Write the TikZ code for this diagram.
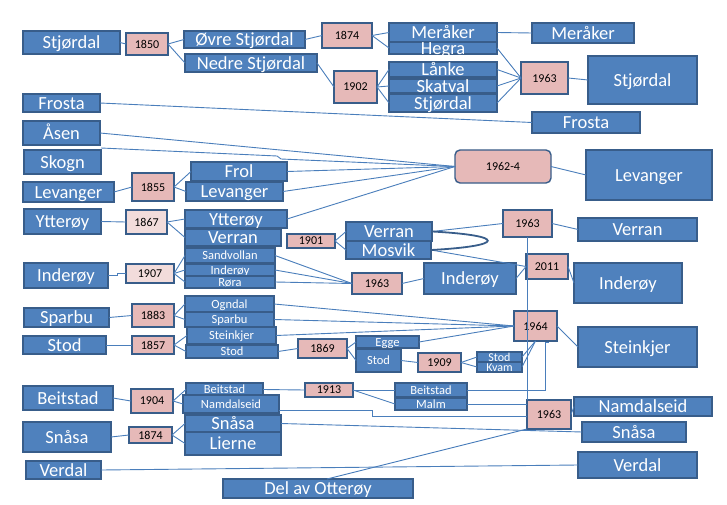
\documentclass[tikz,border=0pt]{standalone}
\usepackage{fontspec}
\setmainfont{Carlito}
\usetikzlibrary{calc}
\definecolor{bfill}{HTML}{4F81BD}
\definecolor{bdraw}{HTML}{385D8A}
\definecolor{pfill}{HTML}{E6B9B8}
\definecolor{lpfill}{HTML}{F2DCDB}
\definecolor{lcol}{HTML}{4A7EBB}
\tikzset{
 bluebox/.style={draw=bdraw, fill=bfill, line width=1.4pt, inner sep=0pt, outer sep=0pt},
 yearbox/.style={draw=bdraw, fill=pfill, line width=1.4pt, inner sep=0pt, outer sep=0pt},
 lyearbox/.style={yearbox, fill=lpfill},
 roundyear/.style={yearbox, rounded corners=5pt},
 conn/.style={draw=lcol, line width=0.9pt},
 loopl/.style={draw=bdraw, line width=1.8pt},
}
\newcommand\bx[7]{%
 \node[bluebox, minimum width={(#4-#2)*1pt}, minimum height={(#5-#3)*1pt}] (#1) at ({(#2+#4)/2},{(#3+#5)/2}) {};
 \node[anchor=base, inner sep=0pt, text=white] at ([yshift={-0.35*#6pt}]#1.center) {\fontsize{#6}{#6}\selectfont #7};}
\newcommand\yr[7]{%
 \node[#6, minimum width={(#4-#2)*1pt}, minimum height={(#5-#3)*1pt}, font=\fontsize{12}{12}\selectfont] (#1) at ({(#2+#4)/2},{(#3+#5)/2}) {#7};}
\begin{document}
\begin{tikzpicture}[x=1pt,y=-1pt]
\useasboundingbox (0,0) rectangle (727,505);
% nodes
\bx{stjL}{23}{31}{120}{54}{18.5}{Stjørdal}
\yr{n1850}{126}{33}{168}{55}{yearbox}{1850}
\bx{ovre}{184}{31}{305}{48}{18.5}{Øvre Stjørdal}
\bx{nedre}{185}{54}{317}{72}{18.5}{Nedre Stjørdal}
\yr{n1874a}{322}{23}{372}{48}{yearbox}{1874}
\yr{n1902}{334}{71}{377}{103}{yearbox}{1902}
\bx{merM}{389}{23}{497}{42}{18.5}{Meråker}
\bx{hegra}{389}{42}{497}{54}{18.5}{Hegra}
\bx{merR}{532}{23}{634}{43}{18.5}{Meråker}
\bx{lanke}{389}{62}{497}{77}{18.5}{Lånke}
\bx{skatval}{389}{79}{497}{93}{18.5}{Skatval}
\bx{stjM}{389}{94}{497}{112}{18.5}{Stjørdal}
\yr{n1963a}{521}{62}{568}{94}{yearbox}{1963}
\bx{stjR}{588}{56}{697}{104}{18.5}{Stjørdal}
\bx{frostaL}{23}{94}{100}{112}{18.5}{Frosta}
\bx{frostaR}{532}{112}{640}{133}{18.5}{Frosta}
\bx{asen}{23}{121}{100}{145}{18.5}{Åsen}
\bx{skogn}{24}{150}{101}{174}{18.5}{Skogn}
\yr{n1962}{455}{150}{551}{183}{roundyear}{1962-4}
\bx{levR}{586}{150}{712}{200}{18.5}{Levanger}
\bx{frol}{191}{162}{287}{181}{18.5}{Frol}
\bx{levM}{186}{182}{283}{201}{18.5}{Levanger}
\bx{levL}{23}{182}{114}{202}{18.5}{Levanger}
\yr{n1855}{132}{173}{174}{201}{yearbox}{1855}
\bx{yttL}{24}{209}{101}{234}{18.5}{Ytterøy}
\yr{n1867}{126}{210}{167}{234}{lyearbox}{1867}
\bx{yttM}{185}{210}{287}{228}{18.5}{Ytterøy}
\bx{verM}{185}{229}{281}{246}{18.5}{Verran}
\yr{n1901}{287}{234}{335}{248}{yearbox}{1901}
\bx{sand}{185}{248}{275}{263}{12.5}{Sandvollan}
\bx{indS}{185}{264}{275}{276}{12.5}{Inderøy}
\bx{rora}{185}{276}{275}{288}{12.5}{Røra}
\bx{indL}{24}{263}{108}{288}{18.5}{Inderøy}
\yr{n1907}{126}{264}{174}{283}{lyearbox}{1907}
\bx{ver2}{346}{222}{432}{241}{18.5}{Verran}
\bx{mosvik}{346}{241}{431}{259}{18.5}{Mosvik}
\yr{n1963v}{503}{210}{552}{237}{yearbox}{1963}
\bx{verR}{578}{218}{697}{241}{18.5}{Verran}
\yr{n2011}{526}{254}{568}{279}{yearbox}{2011}
\bx{indM}{424}{263}{516}{294}{18.5}{Inderøy}
\bx{indR}{574}{263}{682}{303}{18.5}{Inderøy}
\yr{n1963i}{352}{273}{402}{294}{yearbox}{1963}
\bx{sparL}{24}{308}{109}{327}{18.5}{Sparbu}
\yr{n1883}{132}{304}{174}{327}{yearbox}{1883}
\bx{ogndal}{185}{296}{274}{312}{12.5}{Ogndal}
\bx{sparS}{185}{312}{274}{327}{12.5}{Sparbu}
\bx{stodL}{23}{336}{106}{354}{18.5}{Stod}
\yr{n1857}{132}{336}{174}{354}{yearbox}{1857}
\bx{steinS}{187}{327}{276}{344}{12.5}{Steinkjer}
\bx{stodS}{186}{345}{278}{358}{12.5}{Stod}
\yr{n1869}{298}{339}{347}{358}{yearbox}{1869}
\bx{egge}{356}{336}{419}{348}{12.5}{Egge}
\bx{stodE}{356}{349}{401}{372}{12.5}{Stod}
\yr{n1909}{418}{353}{461}{372}{yearbox}{1909}
\bx{stodT}{477}{352}{522}{362}{12}{Stod}
\bx{kvam}{477}{362}{522}{372}{12}{Kvam}
\yr{n1964}{514}{311}{557}{341}{yearbox}{1964}
\bx{steinR}{578}{327}{697}{367}{18.5}{Steinkjer}
\bx{beitL}{23}{386}{113}{410}{18.5}{Beitstad}
\yr{n1904}{131}{389}{173}{413}{yearbox}{1904}
\bx{beitS}{186}{383}{263}{396}{12.5}{Beitstad}
\bx{namS}{183}{395}{279}{413}{12.5}{Namdalseid}
\yr{n1913}{305}{383}{353}{397}{yearbox}{1913}
\bx{beit2}{395}{383}{467}{397}{12.5}{Beitstad}
\bx{malm}{395}{398}{467}{410}{12.5}{Malm}
\yr{n1963n}{527}{400}{571}{429}{yearbox}{1963}
\bx{namR}{574}{397}{712}{416}{18.5}{Namdalseid}
\bx{snaR}{582}{422}{686}{442}{18.5}{Snåsa}
\bx{verdR}{578}{452}{697}{478}{18.5}{Verdal}
\bx{snaL}{23}{422}{111}{452}{18.5}{Snåsa}
\yr{n1874b}{129}{427}{172}{443}{yearbox}{1874}
\bx{snaM}{185}{415}{281}{432}{18.5}{Snåsa}
\bx{lierne}{185}{432}{281}{455}{18.5}{Lierne}
\bx{verdL}{26}{461}{101}{479}{18.5}{Verdal}
\bx{dao}{223}{479}{413}{498}{18.5}{Del av Otterøy}
\coordinate (sk1) at (277,156);
\coordinate (sk2) at (281,159);
\coordinate (k1) at (372,410);
% connectors
\draw[conn] (stjL.east) -- (n1850.west);
\draw[conn] (n1850.east) -- (ovre.west);
\draw[conn] (n1850.east) -- (nedre.west);
\draw[conn] (ovre.east) -- (n1874a.west);
\draw[conn] (nedre.east) -- (n1902.west);
\draw[conn] (n1874a.east) -- (merM.west);
\draw[conn] (n1874a.east) -- (hegra.west);
\draw[conn] (merM.east) -- (merR.west);
\draw[conn] (hegra.east) -- (n1963a.west);
\draw[conn] (n1902.east) -- (lanke.west);
\draw[conn] (n1902.east) -- (skatval.west);
\draw[conn] (n1902.east) -- (stjM.west);
\draw[conn] (lanke.east) -- (n1963a.west);
\draw[conn] (skatval.east) -- (n1963a.west);
\draw[conn] (stjM.east) -- (n1963a.west);
\draw[conn] (n1963a.east) -- (stjR.west);
\draw[conn] (frostaL.east) -- (frostaR.west);
\draw[conn] (asen.east) -- (n1962.west);
\draw[conn] ([yshift=2pt]skogn.north east) -- (sk1) -- (sk2) -- (n1962.west);
\draw[conn] (frol.east) -- (n1962.west);
\draw[conn] (levM.east) -- (n1962.west);
\draw[conn] (yttM.east) -- (n1962.west);
\draw[conn] (n1962.east) -- (levR.west);
\draw[conn] (levL.east) -- (n1855.west);
\draw[conn] (n1855.east) -- (frol.west);
\draw[conn] (n1855.east) -- (levM.west);
\draw[conn] (yttL.east) -- (n1867.west);
\draw[conn] (n1867.east) -- (yttM.west);
\draw[conn] (n1867.east) -- (verM.west);
\draw[conn] (n1901.east) -- (ver2.west);
\draw[conn] (n1901.east) -- (mosvik.west);
\draw[conn] (indL.east) -- ++(9,0) |- (n1907.west);
\draw[conn] (n1907.east) -- (sand.west);
\draw[conn] (n1907.east) -- (indS.west);
\draw[conn] (n1907.east) -- (rora.west);
\draw[conn] (sand.east) -- (n1963i.west);
\draw[conn] (indS.east) -- (n1963i.west);
\draw[conn] (rora.east) -- (n1963i.west);
\draw[conn] (n1963i.east) -- (indM.west);
\draw[conn] (ver2.east) -- (n1963v.west);
\draw[conn] (mosvik.east) -- (n2011.west);
\draw[conn] (indM.east) -- (n2011.west);
\draw[conn] (n2011.east) -- (indR.west);
\draw[conn] (n1963v.east) -- (verR.west);
\draw[conn] (n1963v.south) -- (n1963v.south |- n1963n.north);
\draw[loopl] (ver2.east) .. controls +(75,4) and +(75,-4) .. (mosvik.east);
\draw[conn] (sparL.east) -- (n1883.west);
\draw[conn] (n1883.east) -- (ogndal.west);
\draw[conn] (n1883.east) -- (sparS.west);
\draw[conn] (stodL.east) -- (n1857.west);
\draw[conn] (n1857.east) -- (steinS.west);
\draw[conn] (n1857.east) -- (stodS.west);
\draw[conn] (ogndal.east) -- (n1964.west);
\draw[conn] (sparS.east) -- (n1964.west);
\draw[conn] (steinS.east) -- (n1964.west);
\draw[conn] (stodS.east) -- (n1869.west);
\draw[conn] (n1869.east) -- (egge.west);
\draw[conn] (n1869.east) -- (stodE.west);
\draw[conn] (egge.east) -- (n1964.west);
\draw[conn] (stodE.east) -- (n1909.west);
\draw[conn] (n1909.east) -- (stodT.west);
\draw[conn] (n1909.east) -- (kvam.west);
\draw[conn] (stodT.east) -- (n1964.south);
\draw[conn] (kvam.east) -- (n1964.south);
\draw[conn] (n1964.east) -- (steinR.west);
\draw[conn] (beitL.east) -- (n1904.west);
\draw[conn] (n1904.east) -- (beitS.west);
\draw[conn] (n1904.east) -- (namS.west);
\draw[conn] (beitS.east) -- (n1913.west);
\draw[conn] (n1913.east) -- (beit2.west);
\draw[conn] (n1913.east) -- (malm.west);
\draw[conn] (beit2.east) -| ([xshift=10pt,yshift=-1pt]n1964.south) -- ++(3,0);
\draw[conn] (malm.east) -- (malm.east -| n1963n.west);
\draw[conn] ([yshift=-6pt]namS.east) -- (k1) |- ([yshift=-1.5pt]n1963n.west);
\draw[conn] (n1963n.east) -- (namR.west);
\draw[conn] (snaL.east) -- (n1874b.west);
\draw[conn] (n1874b.east) -- (snaM.west);
\draw[conn] (n1874b.east) -- (lierne.west);
\draw[conn] (snaM.east) -- (snaR.west);
\draw[conn] (verdL.east) -- (verdR.west);
\draw[conn] ([xshift=9pt]dao.north) -- (n1963n.south west);
\end{tikzpicture}
\end{document}
